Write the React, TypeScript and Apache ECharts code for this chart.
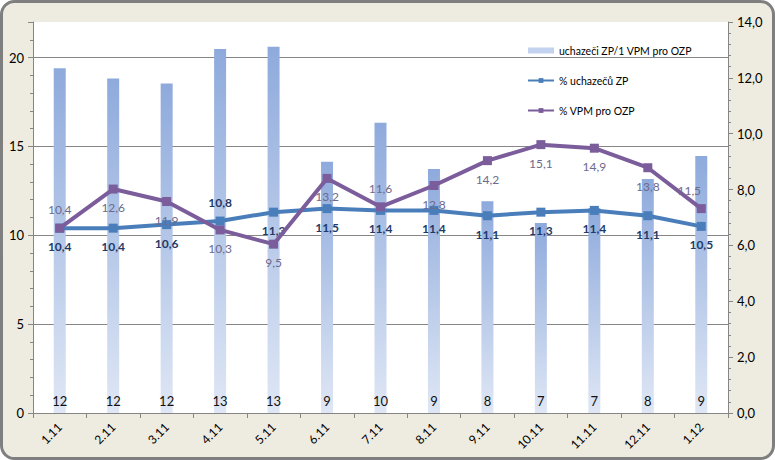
import React, { useEffect, useRef } from "react";
import * as echarts from "echarts";

const categories = ["1.11", "2.11", "3.11", "4.11", "5.11", "6.11", "7.11", "8.11", "9.11", "10.11", "11.11", "12.11", "1.12"];
const barValues = [12.34, 11.98, 11.8, 13.03, 13.11, 9.0, 10.39, 8.74, 7.58, 6.8, 7.34, 8.38, 9.2];
const zpValues = [10.4, 10.4, 10.6, 10.8, 11.3, 11.5, 11.4, 11.4, 11.1, 11.3, 11.4, 11.1, 10.5];
const vpmValues = [10.4, 12.6, 11.9, 10.3, 9.5, 13.2, 11.6, 12.8, 14.2, 15.1, 14.9, 13.8, 11.5];
const zpLabelTop = [3];
const vpmLabelTop = [0, 6, 12];
const seriesNames = ["uchazeči ZP/1 VPM pro OZP", "% uchazečů ZP", "% VPM pro OZP"];

const FONT = "Lato, 'Open Sans', sans-serif";
const comma = (v: number) => v.toFixed(1).replace(".", ",");

export default function App() {
  const ref = useRef<HTMLDivElement>(null);
  useEffect(() => {
    if (!ref.current) return;
    const chart = echarts.init(ref.current, null, { renderer: "svg" });
    const barGradient = new echarts.graphic.LinearGradient(0, 0, 0, 1, [
      { offset: 0, color: "#8eaadc" },
      { offset: 1, color: "#dfe7f5" },
    ]);
    chart.setOption({
      animation: false,
      textStyle: { fontFamily: FONT },
      graphic: [
        {
          type: "rect",
          z: -10,
          silent: true,
          shape: { x: 1.5, y: 1.5, width: 772, height: 457, r: 13 },
          style: { fill: "#eeece1", stroke: "#7f7f7f", lineWidth: 3 },
        },
      ],
      grid: {
        left: 33,
        right: 47,
        top: 22,
        bottom: 47,
        show: true,
        backgroundColor: "#ffffff",
        borderWidth: 0,
      },
      legend: {
        orient: "vertical",
        left: 522,
        top: 40,
        itemGap: 19,
        itemWidth: 26,
        itemHeight: 6,
        textStyle: { fontSize: 10.5, color: "#000", fontFamily: FONT },
        data: [
          { name: seriesNames[0], icon: "rect", itemStyle: { color: "#c3d2ee" } },
          { name: seriesNames[1] },
          { name: seriesNames[2] },
        ],
      },
      xAxis: {
        type: "category",
        data: categories,
        boundaryGap: true,
        axisLine: { lineStyle: { color: "#868686" } },
        axisTick: { show: true, alignWithLabel: false, length: 5, lineStyle: { color: "#868686" } },
        axisLabel: { rotate: 45, color: "#000", fontSize: 12, margin: 12, fontFamily: FONT },
        splitLine: { show: false },
      },
      yAxis: [
        {
          type: "value",
          min: 0,
          max: 22,
          interval: 5,
          position: "left",
          axisLine: { show: true, lineStyle: { color: "#868686" } },
          axisTick: { show: true, length: 5, lineStyle: { color: "#868686" } },
          minorTick: { show: true, splitNumber: 5, length: 3, lineStyle: { color: "#868686" } },
          axisLabel: {
            color: "#000",
            fontSize: 13,
            margin: 9,
            fontFamily: FONT,
            formatter: (v: number) => (v > 20 ? "" : String(v)),
          },
          splitLine: {
            show: true,
            lineStyle: { color: ["#868686", "#868686", "#868686", "#868686", "#868686", "rgba(0,0,0,0)"], width: 1 },
          },
        },
        {
          type: "value",
          min: 0,
          max: 14,
          interval: 2,
          position: "right",
          axisLine: { show: true, lineStyle: { color: "#868686" } },
          axisTick: { show: true, length: 5, lineStyle: { color: "#868686" } },
          minorTick: { show: true, splitNumber: 5, length: 3, lineStyle: { color: "#868686" } },
          axisLabel: { color: "#000", fontSize: 13, margin: 9, fontFamily: FONT, formatter: (v: number) => comma(v) },
          splitLine: { show: false },
        },
      ],
      series: [
        {
          name: seriesNames[0],
          type: "bar",
          yAxisIndex: 1,
          data: barValues,
          barWidth: 12,
          itemStyle: { color: barGradient },
          label: {
            show: true,
            position: "insideBottom",
            distance: 6,
            color: "#111",
            fontSize: 13,
            fontFamily: FONT,
            formatter: (p: any) => String(Math.round(p.value)),
          },
          z: 1,
        },
        {
          name: seriesNames[1],
          type: "line",
          yAxisIndex: 0,
          data: zpValues.map((v, i) => ({
            value: v,
            label: { position: zpLabelTop.includes(i) ? "top" : "bottom" },
          })),
          symbol: "rect",
          symbolSize: 9,
          lineStyle: { color: "#4a7ebb", width: 4 },
          itemStyle: { color: "#4a7ebb" },
          label: {
            show: true,
            color: "#1f3a68",
            fontWeight: "bold",
            fontSize: 12,
            distance: 8,
            fontFamily: FONT,
            formatter: (p: any) => comma(p.value),
          },
          z: 3,
        },
        {
          name: seriesNames[2],
          type: "line",
          yAxisIndex: 0,
          data: vpmValues.map((v, i) => ({
            value: v,
            label: { position: vpmLabelTop.includes(i) ? "top" : "bottom", offset: i === 12 ? [-12, 0] : [0, 0] },
          })),
          symbol: "rect",
          symbolSize: 9,
          lineStyle: { color: "#7b5d9b", width: 4 },
          itemStyle: { color: "#7b5d9b" },
          label: {
            show: true,
            color: "#6c6a8c",
            fontSize: 12,
            distance: 8,
            fontFamily: FONT,
            formatter: (p: any) => comma(p.value),
          },
          z: 4,
        },
      ],
    });
    return () => chart.dispose();
  }, []);
  return (
    <div
      ref={ref}
      style={{ position: "absolute", left: 0, top: 0, width: 775, height: 460 }}
    />
  );
}
